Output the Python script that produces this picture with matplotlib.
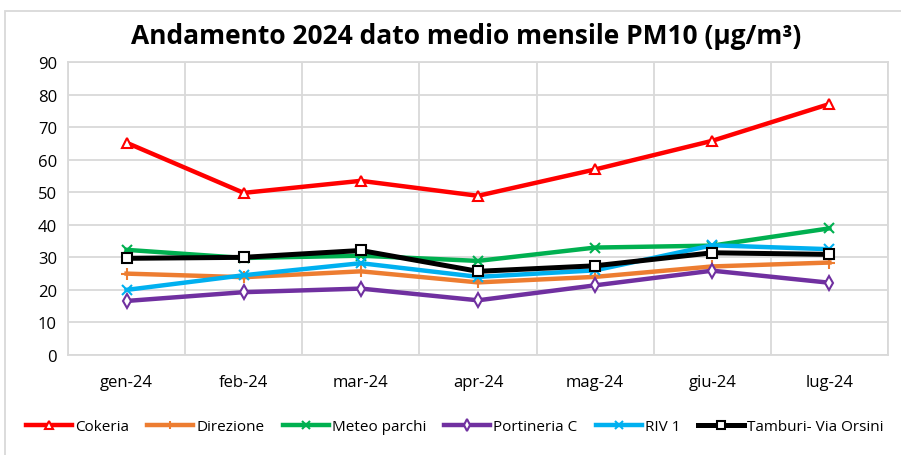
import matplotlib
matplotlib.use("Agg")
import matplotlib.pyplot as plt
from matplotlib.patches import Rectangle
import numpy as np

months = ["gen-24", "feb-24", "mar-24", "apr-24", "mag-24", "giu-24", "lug-24"]
cokeria = [65.2, 49.8, 53.5, 48.9, 57.0, 65.8, 77.1]
direzione = [25.0, 23.9, 25.7, 22.3, 24.0, 27.2, 28.4]
meteo_parchi = [32.3, 29.8, 30.5, 28.9, 33.0, 33.6, 38.9]
portineria_c = [16.6, 19.3, 20.4, 16.8, 21.4, 25.9, 22.2]
riv1 = [20.0, 24.5, 28.2, 24.0, 26.0, 33.7, 32.5]
tamburi = [29.7, 30.0, 32.1, 25.7, 27.4, 31.4, 30.9]

yticks = list(range(0, 100, 10))
title = "Andamento 2024 dato medio mensile PM10 (\u00b5g/m\u00b3)"

plt.rcParams['font.family'] = ['Open Sans', 'DejaVu Sans']

fig = plt.figure(figsize=(9.01, 4.56), dpi=100)
ax = fig.add_axes([68/901, 1-356/456, (888-68)/901, (356-63)/456])

x = np.arange(len(months))
series = [
    ("Cokeria", cokeria, "#ff0000", "^", "white", 7.5, 3.2),
    ("Direzione", direzione, "#ed7d31", "+", "#ed7d31", 8.5, 3.2),
    ("Meteo parchi", meteo_parchi, "#00b050", "x", "#00b050", 7.5, 3.2),
    ("Portineria C", portineria_c, "#7030a0", "d", "white", 7.5, 3.2),
    ("RIV 1", riv1, "#00b0f0", "x", "#00b0f0", 7.5, 3.2),
    ("Tamburi- Via Orsini", tamburi, "#000000", "s", "white", 7.5, 3.6),
]
for name, vals, col, mk, mfc, ms, lw in series:
    ax.plot(x, vals, color=col, lw=lw, marker=mk, markersize=ms,
            markerfacecolor=mfc, markeredgecolor=col, markeredgewidth=1.5,
            label=name)

ax.set_xlim(-0.5, len(months) - 0.5)
ax.set_ylim(0, 90)
ax.set_yticks(yticks)
ax.set_xticks(x)
ax.set_xticklabels(months)
ax.set_xticks(np.arange(-0.5, len(months), 1), minor=True)
ax.grid(True, which='major', axis='y', color='#d9d9d9', lw=1.3)
ax.grid(True, which='minor', axis='x', color='#d9d9d9', lw=1.3)
ax.set_axisbelow(True)
for s in ax.spines.values():
    s.set_color('#d9d9d9')
    s.set_linewidth(1.3)
ax.tick_params(which='both', length=0)
ax.tick_params(axis='y', labelsize=12, pad=8)
ax.tick_params(axis='x', labelsize=12, pad=14)

fig.text(466/901, 1 - 37/456, title, ha='center', va='center',
         fontsize=19, fontweight='bold')

leg = fig.legend(loc='center', bbox_to_anchor=(455/901, 1 - 428/456), ncol=6,
                 frameon=False, fontsize=11, handlelength=3.0,
                 columnspacing=1.2, handletextpad=0.2, markerscale=0.75)

fig.patches.append(Rectangle((5/901, -0.1), 1.2, 1 - 12/456 + 0.1,
                             transform=fig.transFigure, fill=False,
                             edgecolor='#d9d9d9', lw=1.3))

fig.savefig("out.png", dpi=100)
